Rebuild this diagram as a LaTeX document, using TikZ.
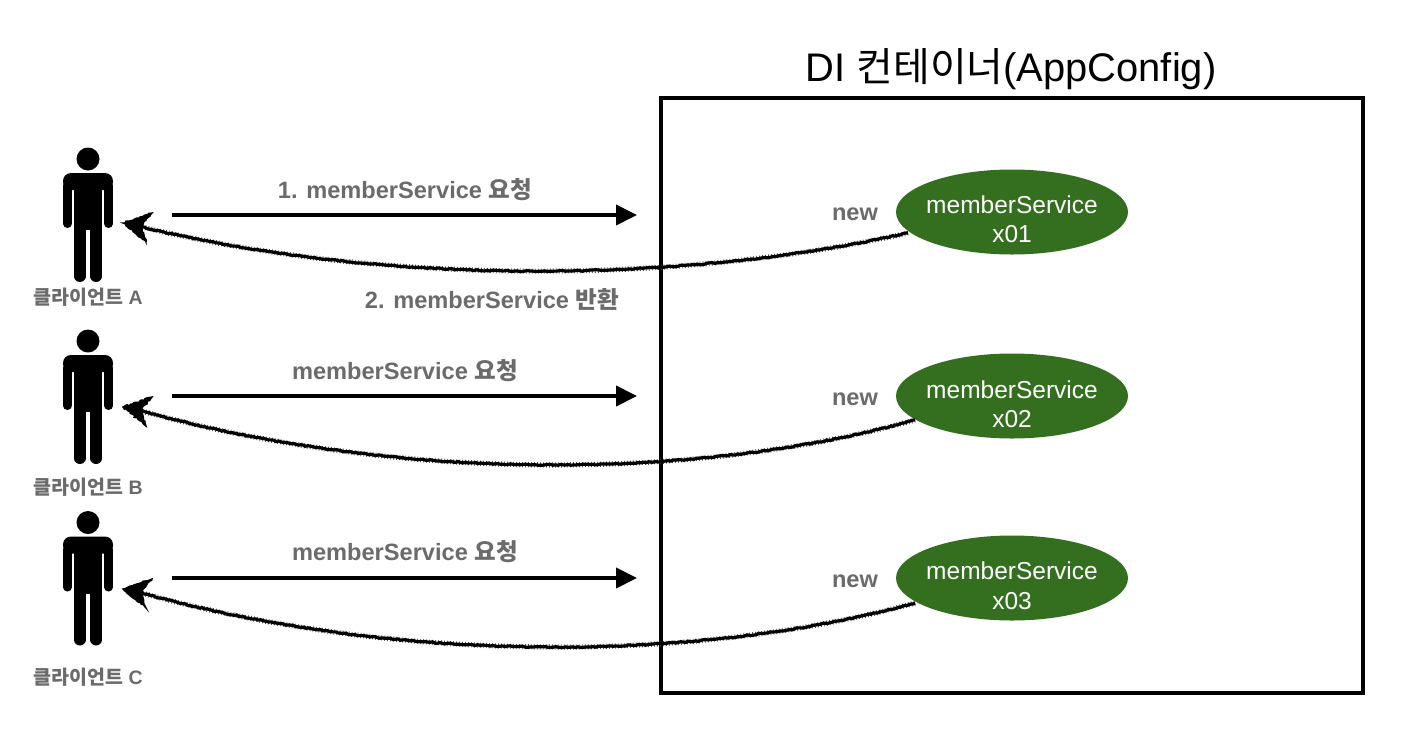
\documentclass[tikz,border=0pt]{standalone}
\usepackage{fontspec}
\setmainfont{Liberation Sans}
\newfontfamily\kr{Noto Sans CJK KR}
\usetikzlibrary{shapes.geometric,decorations.pathmorphing,arrows.meta}
\definecolor{lab}{HTML}{6B6B6B}
\definecolor{grn}{HTML}{336F1E}
\tikzset{
  x=1pt,y=-1pt,
  lbl/.style={text=lab,font=\fontsize{23.6}{27}\selectfont\bfseries,inner sep=0pt,anchor=center},
  cli/.style={text=lab,font=\fontsize{19.5}{23}\selectfont\bfseries,inner sep=0pt,anchor=center},
  svc/.style={ellipse,fill=grn,minimum width=232pt,minimum height=85pt,inner sep=0pt},
  svctext/.style={text=white,inner sep=0pt,align=center,font=\fontsize{24.5}{29.5}\selectfont},
  req/.style={line width=4pt,-{Triangle[length=21pt,width=20pt]}},
  rough/.style={line width=3.2pt,black,decorate,decoration={random steps,segment length=2.5pt,amplitude=0.6pt}},
  scratch/.style={line width=5.2pt,black!70,dash pattern=on 0.8pt off 2.2pt},
  roughtip/.style={line width=1.4pt,black,fill=black,decorate,decoration={random steps,segment length=2pt,amplitude=0.9pt}},
  person/.pic={
    \fill (0,-47) circle[radius=11.5];
    \fill[rounded corners=8pt] (-25,-33) rectangle (25,-16);
    \fill (-14,-20) rectangle (14,24);
    \draw[line width=8.6pt,line cap=round] (-20.7,-20) -- (-20.7,17.7);
    \draw[line width=8.6pt,line cap=round] (20.7,-20) -- (20.7,17.7);
    \draw[line width=11.6pt,line cap=round] (-8.2,20) -- (-8.2,70.2);
    \draw[line width=11.6pt,line cap=round] (8.2,20) -- (8.2,70.2);
  },
}
% #1 start coordinate, #2 tip y, #3 first control y, #4 second control y
\newcommand{\backarrow}[4]{%
  \draw[scratch] (#1) .. controls (700,#4) and (400,#3) .. (138,#2+3);
  \draw[rough] (#1) .. controls (700,#4) and (400,#3) .. (138,#2+3);
  \draw[roughtip] (123,#2) -- (152,#2-10) -- (141,#2+3) -- (146,#2+19) -- cycle;
}
\begin{document}
\begin{tikzpicture}
\useasboundingbox (0,0) rectangle (1408,734);
\fill[white] (0,0) rectangle (1408,734);
\node[inner sep=0pt,font=\fontsize{39.9}{46}\selectfont] (title) at (1011,69) {DI {\kr 컨테이너}(AppConfig)};
\draw[line width=3.6pt] (661,98) rectangle (1363,693);
\pic at (88,206) {person};
\pic at (88,388) {person};
\pic at (88,569.5) {person};
\node[cli] (ca) at (88,297) {{\kr 클라이언트} A};
\node[cli] (cb) at (88,487) {{\kr 클라이언트} B};
\node[cli] (cc) at (88,677) {{\kr 클라이언트} C};
\coordinate (ra) at (172,215); \coordinate (rae) at (637,215);
\coordinate (rb) at (172,396); \coordinate (rbe) at (637,396);
\coordinate (rc) at (172,578); \coordinate (rce) at (637,578);
\draw[req] (ra) -- (rae);
\draw[req] (rb) -- (rbe);
\draw[req] (rc) -- (rce);
\node[lbl] (l1) at (405,190) {1. memberService {\kr 요청}};
\node[lbl] (l2) at (492,299) {2. memberService {\kr 반환}};
\node[lbl] (l3) at (405,371) {memberService {\kr 요청}};
\node[lbl] (l4) at (405,552) {memberService {\kr 요청}};
\node[lbl] (n1) at (855,214) {new};
\node[lbl] (n2) at (855,399) {new};
\node[lbl] (n3) at (855,581) {new};
\node[svc] (s1) at (1012,212) {};
\node[svc] (s2) at (1012,396) {};
\node[svc] (s3) at (1012,578) {};
\node[svctext] (t1) at (1012,219) {memberService\\x01};
\node[svctext] (t2) at (1012,404) {memberService\\x02};
\node[svctext] (t3) at (1012,585.5) {memberService\\x03};
\coordinate (a1) at (908,233);
\coordinate (a2) at (915,420);
\coordinate (a3) at (915,603);
\backarrow{a1}{223}{290}{280}
\backarrow{a2}{407}{483}{480}
\backarrow{a3}{589}{665}{662}
\end{tikzpicture}
\end{document}
